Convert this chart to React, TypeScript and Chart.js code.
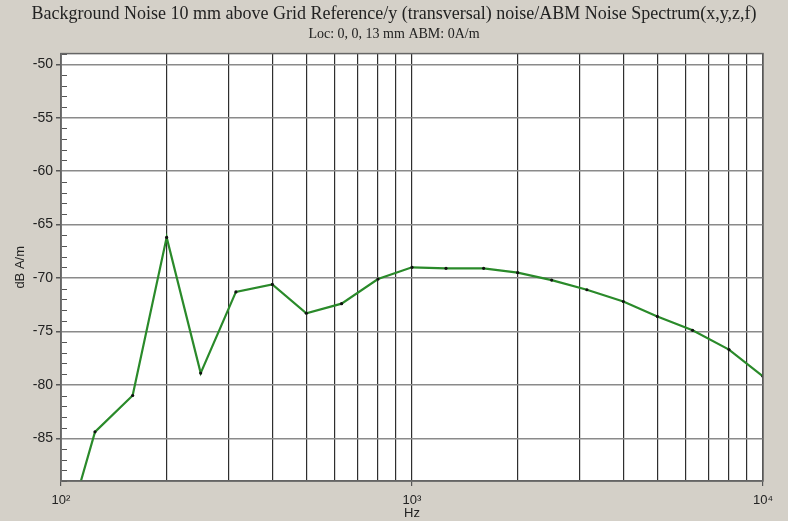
import React, { useEffect, useRef } from "react";
import { Chart, registerables } from "chart.js";

Chart.register(...registerables);

const titleMain = "Background Noise 10 mm above Grid Reference/y (transversal) noise/ABM Noise Spectrum(x,y,z,f)";
const titleSub = "Loc: 0, 0, 13 mm ABM: 0A/m";
const frequencies = [100, 125, 160, 200, 250, 315, 400, 500, 630, 800, 1000, 1250, 1600, 2000, 2500, 3150, 4000, 5000, 6300, 8000, 10000];
const noiseDb = [-95.5, -84.4, -81.0, -66.2, -78.9, -71.3, -70.6, -73.3, -72.4, -70.1, -69.0, -69.1, -69.1, -69.5, -70.2, -71.1, -72.2, -73.6, -74.9, -76.7, -79.2];
const yMajorTicks = [-85, -80, -75, -70, -65, -60, -55, -50];
const xGridValues = [100, 200, 300, 400, 500, 600, 700, 800, 900, 1000, 2000, 3000, 4000, 5000, 6000, 7000, 8000, 9000, 10000];
const decadeLabels: Record<number, string> = { 100: "10²", 1000: "10³", 10000: "10⁴" };
const yMin = -89;
const yMax = -49;

const plotBg = {
  id: "plotBg",
  beforeDraw(chart: any) {
    const { ctx, chartArea: a } = chart;
    ctx.save();
    ctx.fillStyle = "#ffffff";
    ctx.fillRect(a.left, a.top, a.right - a.left, a.bottom - a.top);
    ctx.restore();
  },
};

const minorTicks = {
  id: "minorTicks",
  afterDraw(chart: any) {
    const { ctx, chartArea: a } = chart;
    const y = chart.scales.y;
    ctx.save();
    ctx.strokeStyle = "#555";
    ctx.lineWidth = 1;
    for (let v = Math.ceil(yMin); v <= yMax; v++) {
      if (v % 5 === 0) continue;
      const py = Math.round(y.getPixelForValue(v)) + 0.5;
      ctx.beginPath();
      ctx.moveTo(a.left + 1, py);
      ctx.lineTo(a.left + 6, py);
      ctx.stroke();
    }
    ctx.strokeStyle = "#666";
    ctx.lineWidth = 1.5;
    ctx.strokeRect(a.left, a.top, a.right - a.left, a.bottom - a.top);
    ctx.restore();
  },
};

export default function App() {
  const ref = useRef<HTMLCanvasElement>(null);
  useEffect(() => {
    if (!ref.current) return;
    const chart = new Chart(ref.current, {
      type: "line",
      data: {
        datasets: [
          {
            data: frequencies.map((f, i) => ({ x: f, y: noiseDb[i] })),
            borderColor: "#2a8a2a",
            borderWidth: 2.2,
            pointRadius: 1.6,
            pointBackgroundColor: "#111",
            pointBorderColor: "#111",
            pointBorderWidth: 0,
            tension: 0,
          },
        ],
      },
      options: {
        animation: false,
        responsive: false,
        layout: { padding: { left: 0, right: 0, top: 0, bottom: 0 } },
        plugins: {
          legend: { display: false },
          tooltip: { enabled: false },
          title: {
            display: true,
            text: titleMain,
            color: "#222",
            font: { family: "'Liberation Serif', 'Times New Roman', serif", size: 18, weight: "normal", lineHeight: 1.1 },
            padding: { top: 4, bottom: 1 },
          },
          subtitle: {
            display: true,
            text: titleSub,
            color: "#222",
            font: { family: "'Liberation Serif', 'Times New Roman', serif", size: 14, weight: "normal", lineHeight: 1.2 },
            padding: { top: 1, bottom: 11 },
          },
        },
        scales: {
          x: {
            type: "logarithmic",
            min: 100,
            max: 10000,
            afterBuildTicks: (s: any) => {
              s.ticks = xGridValues.map((v) => ({ value: v }));
            },
            afterFit: (s: any) => {
              s.height = 40;
            },
            ticks: {
              autoSkip: false,
              maxRotation: 0,
              color: "#222",
              padding: 7,
              font: { family: "'Liberation Sans', Arial, sans-serif", size: 13 },
              callback: (v: any) => decadeLabels[Number(v)] ?? "",
            },
            grid: {
              color: "#2e2e2e",
              lineWidth: 1.2,
              tickLength: 5,
              tickColor: (c: any) => (decadeLabels[c.tick?.value] ? "#555" : "rgba(0,0,0,0)"),
            },
            border: { color: "#666", width: 1.5 },
            title: {
              display: true,
              text: "Hz",
              color: "#222",
              font: { family: "'Liberation Sans', Arial, sans-serif", size: 13 },
              padding: { top: 0, bottom: 0 },
            },
          },
          y: {
            min: yMin,
            max: yMax,
            afterBuildTicks: (s: any) => {
              s.ticks = yMajorTicks.map((v) => ({ value: v }));
            },
            afterFit: (s: any) => {
              s.width = 61;
            },
            ticks: {
              color: "#222",
              padding: 3,
              font: { family: "'Liberation Sans', Arial, sans-serif", size: 14 },
            },
            grid: {
              color: "#8a8a8a",
              lineWidth: 1.5,
              tickLength: 5,
              tickColor: "#555",
            },
            border: { color: "#666", width: 1.5 },
            title: {
              display: true,
              text: "dB A/m",
              color: "#222",
              font: { family: "'Liberation Sans', Arial, sans-serif", size: 13 },
              padding: { top: 13, bottom: 4 },
            },
          },
          yRight: {
            position: "right",
            min: yMin,
            max: yMax,
            display: true,
            afterFit: (s: any) => {
              s.width = 25;
            },
            ticks: { display: false },
            grid: { display: false, drawTicks: false },
            border: { display: false },
          },
        },
      },
      plugins: [plotBg, minorTicks],
    });
    return () => chart.destroy();
  }, []);
  return (
    <div style={{ position: "fixed", left: 0, top: 0, width: 788, height: 521, background: "#d4d0c8" }}>
      <canvas ref={ref} width={788} height={521} style={{ display: "block", width: 788, height: 521 }} />
    </div>
  );
}
